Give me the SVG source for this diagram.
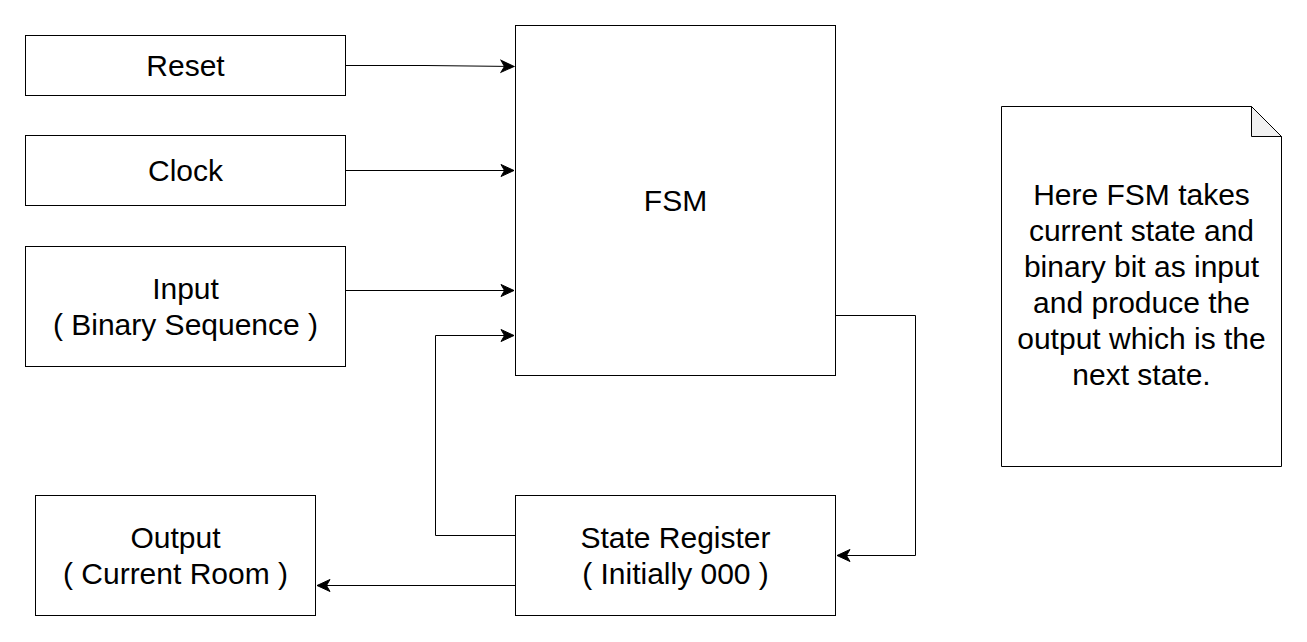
<svg xmlns="http://www.w3.org/2000/svg" width="1307" height="642" viewBox="0 0 1307 642">
  <style>
    .box { fill: #ffffff; stroke: #000000; stroke-width: 1; }
    .lbl { font-family: "Liberation Sans", Arial, sans-serif; font-size: 30px; fill: #000000; text-anchor: middle; }
    .edge { fill: none; stroke: #000000; stroke-width: 1; marker-end: url(#arrow); }
  </style>
  <defs>
    <marker id="arrow" markerUnits="userSpaceOnUse" markerWidth="16" markerHeight="16" viewBox="-14 -8 16 16" refX="0" refY="0" orient="auto">
      <path d="M0,0 L-13,-6 L-9.5,0 L-13,6 Z" fill="#000000" stroke="#000000" stroke-width="1"/>
    </marker>
  </defs>
  <rect width="1307" height="642" fill="#ffffff"/>

  <g id="connectors">
    <path class="edge" d="M345.5,65.5 H425 L514,66.5"/>
    <path class="edge" d="M345.5,170.5 H514"/>
    <path class="edge" d="M345.5,290.5 H514"/>
    <path class="edge" d="M835.5,315.5 H915.5 V555.5 H837"/>
    <path class="edge" d="M515.5,535.5 H435.5 V335.5 H514"/>
    <path class="edge" d="M515.5,585.5 H317"/>
  </g>

  <g id="reset">
    <rect class="box" x="25.5" y="35.5" width="320" height="60"/>
    <text class="lbl" x="185.5" y="76">Reset</text>
  </g>
  <g id="clock">
    <rect class="box" x="25.5" y="135.5" width="320" height="70"/>
    <text class="lbl" x="185.5" y="181">Clock</text>
  </g>
  <g id="input">
    <rect class="box" x="25.5" y="246.5" width="320" height="120"/>
    <text class="lbl" x="185.5" y="299">Input</text>
    <text class="lbl" x="185.5" y="335">( Binary Sequence )</text>
  </g>
  <g id="fsm">
    <rect class="box" x="515.5" y="25.5" width="320" height="350"/>
    <text class="lbl" x="675.5" y="211">FSM</text>
  </g>
  <g id="state-register">
    <rect class="box" x="515.5" y="495.5" width="320" height="120"/>
    <text class="lbl" x="675.5" y="548">State Register</text>
    <text class="lbl" x="675.5" y="584">( Initially 000 )</text>
  </g>
  <g id="output">
    <rect class="box" x="35.5" y="495.5" width="280" height="120"/>
    <text class="lbl" x="175.5" y="548">Output</text>
    <text class="lbl" x="175.5" y="584">( Current Room )</text>
  </g>
  <g id="note">
    <path class="box" d="M1001.5,106.5 H1251.5 L1281.5,136.5 V466.5 H1001.5 Z"/>
    <path d="M1251.5,106.5 V136.5 H1281.5 Z" fill="#f1f1f1" stroke="#000000" stroke-width="1"/>
    <text class="lbl" x="1141.5" y="205">Here FSM takes</text>
    <text class="lbl" x="1141.5" y="241">current state and</text>
    <text class="lbl" x="1141.5" y="277">binary bit as input</text>
    <text class="lbl" x="1141.5" y="313">and produce the</text>
    <text class="lbl" x="1141.5" y="349">output which is the</text>
    <text class="lbl" x="1141.5" y="385">next state.</text>
  </g>
</svg>
